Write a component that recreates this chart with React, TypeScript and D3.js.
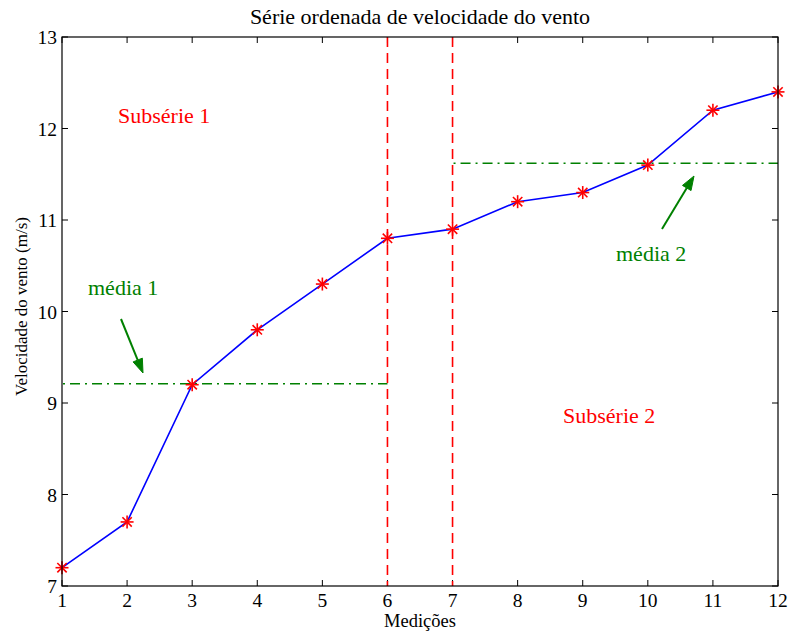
import React from "react";
import * as d3 from "d3";

// Ordered wind speed series (m/s)
const medicoes = [1, 2, 3, 4, 5, 6, 7, 8, 9, 10, 11, 12];
const velocidade = [7.2, 7.7, 9.2, 9.8, 10.3, 10.8, 10.9, 11.2, 11.3, 11.6, 12.2, 12.4];
const xTicks = [1, 2, 3, 4, 5, 6, 7, 8, 9, 10, 11, 12];
const yTicks = [7, 8, 9, 10, 11, 12, 13];
// Split points between the two subseries
const divisoes = [6, 7];
// Subseries ranges and their mean levels
const subInicio = [1, 7];
const subFim = [6, 12];
const subMedia = [9.21, 11.62];

const W = 789;
const H = 637;
const M = { left: 62, right: 11, top: 37, bottom: 51 };
const FONT = "'Liberation Serif', 'Times New Roman', serif";

function Star({ x, y }: { x: number; y: number }) {
  const r = 6.5;
  const d = r * 0.72;
  return (
    <g stroke="#ff0000" strokeWidth={1.6}>
      <line x1={x - r} y1={y} x2={x + r} y2={y} />
      <line x1={x} y1={y - r} x2={x} y2={y + r} />
      <line x1={x - d} y1={y - d} x2={x + d} y2={y + d} />
      <line x1={x - d} y1={y + d} x2={x + d} y2={y - d} />
    </g>
  );
}

function Arrow({ x1, y1, x2, y2 }: { x1: number; y1: number; x2: number; y2: number }) {
  const ang = Math.atan2(y2 - y1, x2 - x1);
  const len = 14;
  const half = 5;
  const bx = x2 - len * Math.cos(ang);
  const by = y2 - len * Math.sin(ang);
  const px = -Math.sin(ang) * half;
  const py = Math.cos(ang) * half;
  return (
    <g stroke="#008000" fill="#008000">
      <line x1={x1} y1={y1} x2={bx} y2={by} strokeWidth={2} />
      <path d={`M${x2},${y2}L${bx + px},${by + py}L${bx - px},${by - py}Z`} strokeWidth={1} />
    </g>
  );
}

export default function App() {
  const iw = W - M.left - M.right;
  const ih = H - M.top - M.bottom;
  const x = d3.scaleLinear().domain([1, 12]).range([M.left, M.left + iw]);
  const y = d3.scaleLinear().domain([7, 13]).range([M.top + ih, M.top]);

  const line = d3
    .line<number>()
    .x((_, i) => x(medicoes[i]))
    .y((v) => y(v));

  const tick = 6;
  const x0 = M.left;
  const x1 = M.left + iw;
  const y0 = M.top + ih;
  const y1 = M.top;

  return (
    <svg width={W} height={H} style={{ position: "absolute", left: 0, top: 0 }} fontFamily={FONT}>
      <rect width={W} height={H} fill="#fff" />

      {/* ticks on all four sides */}
      <g stroke="#000" strokeWidth={1}>
        {xTicks.map((t) => (
          <g key={"xt" + t}>
            <line x1={x(t)} x2={x(t)} y1={y0} y2={y0 - tick} />
            <line x1={x(t)} x2={x(t)} y1={y1} y2={y1 + tick} />
          </g>
        ))}
        {yTicks.map((t) => (
          <g key={"yt" + t}>
            <line x1={x0} x2={x0 + tick} y1={y(t)} y2={y(t)} />
            <line x1={x1} x2={x1 - tick} y1={y(t)} y2={y(t)} />
          </g>
        ))}
      </g>

      {/* subseries divisions */}
      {divisoes.map((d) => (
        <line
          key={"div" + d}
          x1={x(d)}
          x2={x(d)}
          y1={y1}
          y2={y0}
          stroke="#ff0000"
          strokeWidth={1.6}
          strokeDasharray="10,6"
        />
      ))}

      {/* subseries means */}
      {subMedia.map((m, i) => (
        <line
          key={"m" + i}
          x1={x(subInicio[i])}
          x2={x(subFim[i])}
          y1={y(m)}
          y2={y(m)}
          stroke="#008000"
          strokeWidth={1.4}
          strokeDasharray="10,5,2,5"
          strokeDashoffset={-8}
        />
      ))}

      <path d={line(velocidade) as string} fill="none" stroke="#0000ff" strokeWidth={1.6} />
      {velocidade.map((v, i) => (
        <Star key={"s" + i} x={x(medicoes[i])} y={y(v)} />
      ))}

      {/* axes box */}
      <rect x={x0} y={y1} width={iw} height={ih} fill="none" stroke="#000" strokeWidth={1.2} />

      {/* tick labels */}
      <g fontSize={19.5} fill="#000">
        {xTicks.map((t) => (
          <text key={"xl" + t} x={x(t)} y={y0 + 21} textAnchor="middle">
            {t}
          </text>
        ))}
        {yTicks.map((t) => (
          <text key={"yl" + t} x={x0 - 5} y={y(t) + 7} textAnchor="end">
            {t}
          </text>
        ))}
      </g>

      <text x={(x0 + x1) / 2} y={24} fontSize={22} textAnchor="middle" fill="#000">
        Série ordenada de velocidade do vento
      </text>
      <text x={(x0 + x1) / 2} y={627} fontSize={18.5} textAnchor="middle" fill="#000">
        Medições
      </text>
      <text
        transform={`translate(27,${(y0 + y1) / 2 - 5}) rotate(-90)`}
        fontSize={17}
        textAnchor="middle"
        fill="#000"
      >
        Velocidade do vento (m/s)
      </text>

      {/* annotations */}
      <text x={118} y={123} fontSize={22} fill="#ff0000">
        Subsérie 1
      </text>
      <text x={563} y={423} fontSize={22} fill="#ff0000">
        Subsérie 2
      </text>
      <text x={88} y={295} fontSize={22} fill="#008000">
        média 1
      </text>
      <text x={616} y={261} fontSize={22} fill="#008000">
        média 2
      </text>
      <Arrow x1={121} y1={319} x2={143} y2={373} />
      <Arrow x1={662} y1={229} x2={694} y2={176} />
    </svg>
  );
}
